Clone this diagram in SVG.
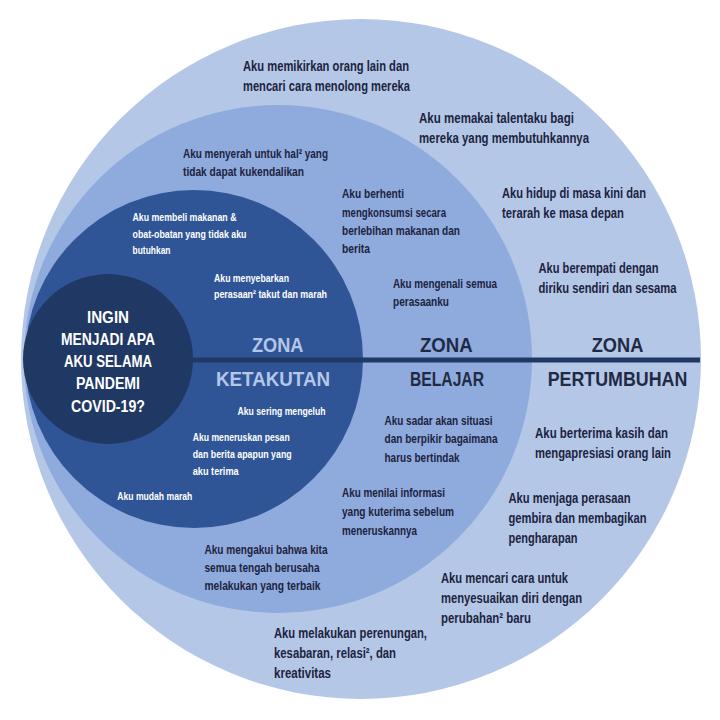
<svg xmlns="http://www.w3.org/2000/svg" width="720" height="720" viewBox="0 0 720 720">
<style>
text{font-family:"Liberation Sans Narrow","Liberation Sans","DejaVu Sans",sans-serif;font-weight:bold}
.g{font-size:15px;fill:#1c2340}
.l{font-size:13px;fill:#1c2340}
.f{font-size:11.5px;fill:#ffffff}
.c{font-size:16px;fill:#ffffff;text-anchor:middle}
.hd{font-size:21px;fill:#1f2a44}
.hl{font-size:21px;fill:#b4c7e7}
</style>
<rect width="720" height="720" fill="#ffffff"/>
<g id="zona-pertumbuhan">
<circle cx="361" cy="359" r="340" fill="#b4c7e7"/>
</g>
<g id="zona-belajar">
<circle cx="278" cy="359" r="254" fill="#8faadc"/>
</g>
<g id="zona-ketakutan">
<circle cx="194" cy="359" r="169" fill="#2f5597"/>
</g>
<g id="divider">
<line x1="190" y1="360" x2="700" y2="360" stroke="#1f3864" stroke-width="5"/>
</g>
<g id="pusat">
<circle cx="108" cy="359" r="85" fill="#203864"/>
<text class="c" x="108" y="323" textLength="42" lengthAdjust="spacingAndGlyphs">INGIN</text>
<text class="c" x="108" y="345" textLength="94" lengthAdjust="spacingAndGlyphs">MENJADI APA</text>
<text class="c" x="108" y="367" textLength="88" lengthAdjust="spacingAndGlyphs">AKU SELAMA</text>
<text class="c" x="108" y="389" textLength="64" lengthAdjust="spacingAndGlyphs">PANDEMI</text>
<text class="c" x="108" y="411.5" textLength="74" lengthAdjust="spacingAndGlyphs">COVID-19?</text>
</g>
<g id="teks-ketakutan">
<text class="hl" x="252" y="352" textLength="51.5" lengthAdjust="spacingAndGlyphs">ZONA</text>
<text class="hl" x="216" y="386" textLength="114" lengthAdjust="spacingAndGlyphs">KETAKUTAN</text>
<text class="f" x="132.5" y="221" textLength="104" lengthAdjust="spacingAndGlyphs">Aku membeli makanan &amp;</text>
<text class="f" x="132.5" y="237.5" textLength="114" lengthAdjust="spacingAndGlyphs">obat-obatan yang tidak aku</text>
<text class="f" x="132.5" y="254" textLength="38" lengthAdjust="spacingAndGlyphs">butuhkan</text>
<text class="f" x="214" y="281.7" textLength="75" lengthAdjust="spacingAndGlyphs">Aku menyebarkan</text>
<text class="f" x="214" y="298.3" textLength="113" lengthAdjust="spacingAndGlyphs">perasaan² takut dan marah</text>
<text class="f" x="237.5" y="415" textLength="88" lengthAdjust="spacingAndGlyphs">Aku sering mengeluh</text>
<text class="f" x="192.7" y="440.7" textLength="97" lengthAdjust="spacingAndGlyphs">Aku meneruskan pesan</text>
<text class="f" x="192.7" y="458" textLength="99" lengthAdjust="spacingAndGlyphs">dan berita apapun yang</text>
<text class="f" x="192.7" y="475" textLength="46" lengthAdjust="spacingAndGlyphs">aku terima</text>
<text class="f" x="117.3" y="500" textLength="75" lengthAdjust="spacingAndGlyphs">Aku mudah marah</text>
</g>
<g id="teks-belajar">
<text class="hd" x="420" y="352" textLength="52.7" lengthAdjust="spacingAndGlyphs">ZONA</text>
<text class="hd" x="410" y="385.5" textLength="74" lengthAdjust="spacingAndGlyphs">BELAJAR</text>
<text class="l" x="183" y="158.3" textLength="145" lengthAdjust="spacingAndGlyphs">Aku menyerah untuk hal² yang</text>
<text class="l" x="183" y="175.7" textLength="121" lengthAdjust="spacingAndGlyphs">tidak dapat kukendalikan</text>
<text class="l" x="342" y="197.7" textLength="62" lengthAdjust="spacingAndGlyphs">Aku berhenti</text>
<text class="l" x="342" y="216.5" textLength="104" lengthAdjust="spacingAndGlyphs">mengkonsumsi secara</text>
<text class="l" x="342" y="235" textLength="118" lengthAdjust="spacingAndGlyphs">berlebihan makanan dan</text>
<text class="l" x="342" y="253.3" textLength="28" lengthAdjust="spacingAndGlyphs">berita</text>
<text class="l" x="393" y="288.3" textLength="104" lengthAdjust="spacingAndGlyphs">Aku mengenali semua</text>
<text class="l" x="393" y="306" textLength="56" lengthAdjust="spacingAndGlyphs">perasaanku</text>
<text class="l" x="384.5" y="425" textLength="108" lengthAdjust="spacingAndGlyphs">Aku sadar akan situasi</text>
<text class="l" x="384.5" y="443.3" textLength="113" lengthAdjust="spacingAndGlyphs">dan berpikir bagaimana</text>
<text class="l" x="384.5" y="461.7" textLength="75" lengthAdjust="spacingAndGlyphs">harus bertindak</text>
<text class="l" x="342" y="496.7" textLength="103" lengthAdjust="spacingAndGlyphs">Aku menilai informasi</text>
<text class="l" x="342" y="516" textLength="112" lengthAdjust="spacingAndGlyphs">yang kuterima sebelum</text>
<text class="l" x="342" y="535" textLength="75" lengthAdjust="spacingAndGlyphs">meneruskannya</text>
<text class="l" x="204.5" y="554" textLength="123" lengthAdjust="spacingAndGlyphs">Aku mengakui bahwa kita</text>
<text class="l" x="204.5" y="572" textLength="115" lengthAdjust="spacingAndGlyphs">semua tengah berusaha</text>
<text class="l" x="204.5" y="590" textLength="116" lengthAdjust="spacingAndGlyphs">melakukan yang terbaik</text>
</g>
<g id="teks-pertumbuhan">
<text class="hd" x="591.7" y="352" textLength="51.6" lengthAdjust="spacingAndGlyphs">ZONA</text>
<text class="hd" x="547.7" y="385.5" textLength="139.6" lengthAdjust="spacingAndGlyphs">PERTUMBUHAN</text>
<text class="g" x="243" y="70.7" textLength="166" lengthAdjust="spacingAndGlyphs">Aku memikirkan orang lain dan</text>
<text class="g" x="243" y="90.7" textLength="167" lengthAdjust="spacingAndGlyphs">mencari cara menolong mereka</text>
<text class="g" x="419" y="123" textLength="155" lengthAdjust="spacingAndGlyphs">Aku memakai talentaku bagi</text>
<text class="g" x="419" y="143" textLength="170" lengthAdjust="spacingAndGlyphs">mereka yang membutuhkannya</text>
<text class="g" x="502" y="198.3" textLength="144" lengthAdjust="spacingAndGlyphs">Aku hidup di masa kini dan</text>
<text class="g" x="502" y="218.3" textLength="122" lengthAdjust="spacingAndGlyphs">terarah ke masa depan</text>
<text class="g" x="538.5" y="272.7" textLength="120" lengthAdjust="spacingAndGlyphs">Aku berempati dengan</text>
<text class="g" x="538.5" y="293.3" textLength="138" lengthAdjust="spacingAndGlyphs">diriku sendiri dan sesama</text>
<text class="g" x="535" y="438.3" textLength="133" lengthAdjust="spacingAndGlyphs">Aku berterima kasih dan</text>
<text class="g" x="535" y="457.8" textLength="136" lengthAdjust="spacingAndGlyphs">mengapresiasi orang lain</text>
<text class="g" x="508.5" y="503.3" textLength="122" lengthAdjust="spacingAndGlyphs">Aku menjaga perasaan</text>
<text class="g" x="508.5" y="523.3" textLength="138" lengthAdjust="spacingAndGlyphs">gembira dan membagikan</text>
<text class="g" x="508.5" y="543.3" textLength="69" lengthAdjust="spacingAndGlyphs">pengharapan</text>
<text class="g" x="441" y="583.3" textLength="127" lengthAdjust="spacingAndGlyphs">Aku mencari cara untuk</text>
<text class="g" x="441" y="603.3" textLength="141" lengthAdjust="spacingAndGlyphs">menyesuaikan diri dengan</text>
<text class="g" x="441" y="623.3" textLength="90" lengthAdjust="spacingAndGlyphs">perubahan² baru</text>
<text class="g" x="274" y="638.3" textLength="153" lengthAdjust="spacingAndGlyphs">Aku melakukan perenungan,</text>
<text class="g" x="274" y="658.3" textLength="122" lengthAdjust="spacingAndGlyphs">kesabaran, relasi², dan</text>
<text class="g" x="274" y="678.3" textLength="57" lengthAdjust="spacingAndGlyphs">kreativitas</text>
</g>
</svg>
